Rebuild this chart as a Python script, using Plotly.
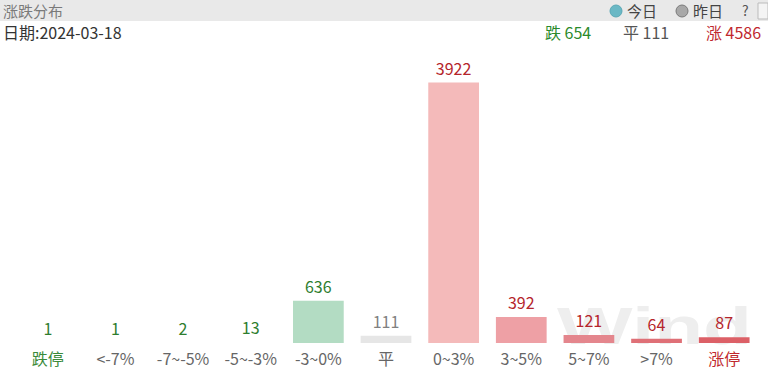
import base64
import plotly.graph_objects as go

categories = ["跌停", "<-7%", "-7~-5%", "-5~-3%", "-3~0%", "平", "0~3%", "3~5%", "5~7%", ">7%", "涨停"]
counts = [1, 1, 2, 13, 636, 111, 3922, 392, 121, 64, 87]
bar_colors = ["#b3dcc3", "#b3dcc3", "#b3dcc3", "#b3dcc3", "#b3dcc3", "#e6e6e6",
              "#f4baba", "#eea0a5", "#e4868d", "#df7077", "#dc6067"]
label_colors = ["#2e7d2e"] * 5 + ["#808080"] + ["#b5252b"] * 5
tick_colors = ["#3a8a3a"] + ["#666666"] * 9 + ["#c0282d"]

summary_down = 654
summary_flat = 111
summary_up = 4586
date_str = "2024-03-18"

FONT = "Noto Sans CJK SC, Microsoft YaHei, sans-serif"
W, H = 768, 373
L, R, T, B = 14, 10, 60, 30
PLOT_H = H - T - B
xs = list(range(len(categories)))
ymax = max(counts) * PLOT_H / 260.5

# bars thinner than ~1px are not drawn in the reference
drawn_colors = [c if v / ymax * PLOT_H >= 1.5 else "rgba(0,0,0,0)" for c, v in zip(bar_colors, counts)]


def px_x(p):
    return (p - L) / (W - L - R)


def px_y(p):
    return (H - B - p) / PLOT_H


fig = go.Figure()

fig.add_trace(go.Bar(
    x=xs, y=counts, width=0.75,
    marker=dict(color=drawn_colors, line=dict(width=0)),
    text=[str(c) for c in counts], textposition="outside",
    textfont=dict(family=FONT, size=16, color=label_colors),
    cliponaxis=False, showlegend=False, hoverinfo="x+y",
))

ticktext = [f"<span style='color:{c}'>{t}</span>" for t, c in zip(categories, tick_colors)]

fig.update_layout(
    width=W, height=H,
    margin=dict(l=L, r=R, t=T, b=B, pad=0, autoexpand=False),
    paper_bgcolor="white", plot_bgcolor="rgba(0,0,0,0)",
    font=dict(family=FONT, size=16, color="#666666"),
    xaxis=dict(range=[-0.5, len(categories) - 0.5], tickmode="array", tickvals=xs,
               ticktext=ticktext, showgrid=False, zeroline=False, showline=False,
               ticks="", ticklabelstandoff=5, tickfont=dict(size=16, color="#666666"),
               automargin=False, fixedrange=True),
    yaxis=dict(range=[0, ymax], visible=False, fixedrange=True, automargin=False),
    bargap=0.25,
)

# faint "Wind" watermark behind the bars
svg = ("<svg xmlns='http://www.w3.org/2000/svg' width='195' height='40' viewBox='0 0 195 40' "
       "preserveAspectRatio='none'><text x='0' y='39' font-family='Liberation Sans, Arial, sans-serif' "
       "font-weight='bold' font-size='52' fill='#eeeeee' textLength='195' "
       "lengthAdjust='spacingAndGlyphs'>Wind</text></svg>")
svg_uri = "data:image/svg+xml;base64," + base64.b64encode(svg.encode()).decode()
fig.add_layout_image(dict(source=svg_uri, xref="paper", yref="paper",
                          x=px_x(557), y=px_y(305), sizex=195 / (W - L - R), sizey=40 / PLOT_H,
                          xanchor="left", yanchor="top", sizing="stretch", layer="below"))

shapes = [
    dict(type="rect", xref="paper", yref="paper", x0=px_x(0), x1=px_x(W), y0=px_y(21), y1=px_y(0),
         fillcolor="#e9e9e9", line=dict(width=0), layer="below"),
    dict(type="circle", xref="paper", yref="paper", xsizemode="pixel", ysizemode="pixel",
         xanchor=px_x(616), yanchor=px_y(11), x0=-6, x1=6, y0=-6, y1=6,
         fillcolor="#6ab8c5", line=dict(color="#5aa8b5", width=1)),
    dict(type="circle", xref="paper", yref="paper", xsizemode="pixel", ysizemode="pixel",
         xanchor=px_x(682), yanchor=px_y(11), x0=-6, x1=6, y0=-6, y1=6,
         fillcolor="#a8a8a8", line=dict(color="#7a7a7a", width=1)),
    dict(type="rect", xref="paper", yref="paper", x0=px_x(758), x1=px_x(768), y0=px_y(19), y1=px_y(3),
         fillcolor="#f4f4f4", line=dict(color="#bbbbbb", width=1)),
]
fig.update_layout(shapes=shapes)


def ann(text, x, y, color, size=16, anchor="left"):
    fig.add_annotation(text=text, xref="paper", yref="paper", x=px_x(x), y=px_y(y),
                       xanchor=anchor, yanchor="middle", showarrow=False, borderpad=0,
                       font=dict(family=FONT, size=size, color=color))


ann("涨跌分布", 2, 10, "#7a7a7a", 15)
ann("今日", 626, 10, "#444444", 15)
ann("昨日", 692, 10, "#444444", 15)
ann("?", 741, 10, "#555555", 14)
ann(f"日期:{date_str}", 2, 32.5, "#333333", 16)
ann(f"跌 {summary_down}", 592, 32.5, "#2b8a2b", 16, "right")
ann(f"平 {summary_flat}", 670, 32.5, "#555555", 16, "right")
ann(f"涨 {summary_up}", 762, 32.5, "#c0282d", 16, "right")

fig.write_html("out.html", config={"displayModeBar": False},
               post_script="document.body.style.margin='0px';")
